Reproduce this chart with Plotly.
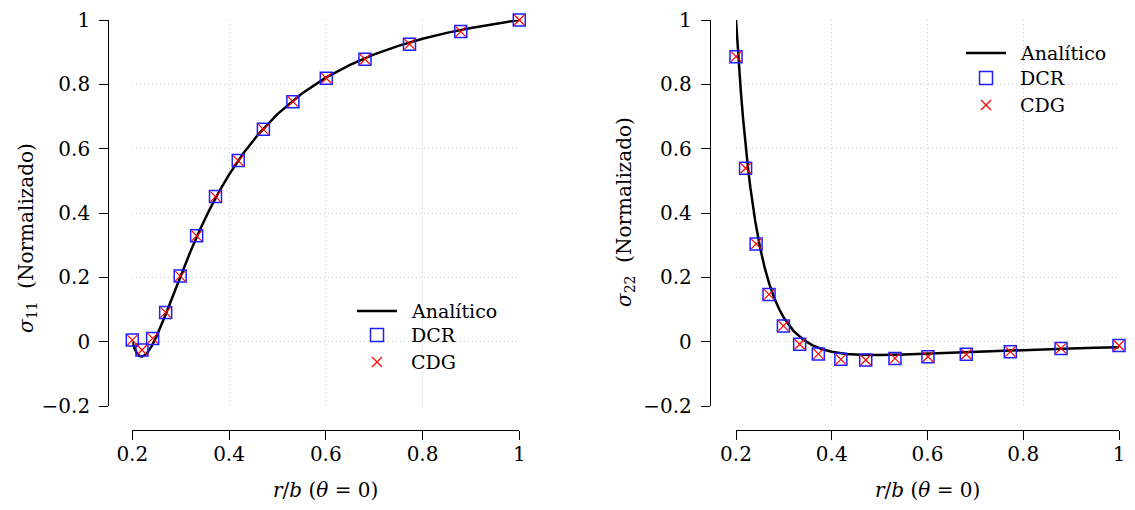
import plotly.graph_objects as go

# ---------------- data ----------------
r_pts = [0.2, 0.22, 0.242, 0.269, 0.299, 0.333, 0.372, 0.419, 0.471, 0.532,
         0.601, 0.681, 0.773, 0.879, 1.0]
s11_dcr = [0.005, -0.026, 0.010, 0.091, 0.204, 0.329, 0.451, 0.563, 0.660,
           0.746, 0.819, 0.878, 0.925, 0.964, 1.0]
s11_cdg = [0.005, -0.026, 0.010, 0.091, 0.204, 0.329, 0.451, 0.563, 0.660,
           0.746, 0.819, 0.878, 0.925, 0.964, 1.0]
s22_dcr = [0.886, 0.539, 0.304, 0.147, 0.049, -0.008, -0.038, -0.055, -0.057,
           -0.052, -0.047, -0.039, -0.031, -0.021, -0.012]
s22_cdg = [0.886, 0.539, 0.304, 0.147, 0.049, -0.008, -0.038, -0.055, -0.057,
           -0.052, -0.047, -0.039, -0.031, -0.021, -0.012]

r_curve = [0.2, 0.205, 0.21, 0.215, 0.22, 0.225, 0.23, 0.24, 0.25, 0.26, 0.27,
           0.28, 0.29, 0.30, 0.32, 0.34, 0.36, 0.38, 0.40, 0.43, 0.46, 0.50,
           0.55, 0.60, 0.65, 0.70, 0.75, 0.80, 0.85, 0.90, 0.95, 1.0]
s11_an = [0.0, -0.0229, -0.0371, -0.0445, -0.0461, -0.0431, -0.0363, -0.0141,
          0.0160, 0.0509, 0.0885, 0.1274, 0.1660, 0.2052, 0.2796, 0.3486,
          0.4114, 0.4683, 0.5194, 0.5866, 0.6438, 0.7074, 0.7709, 0.8209,
          0.8608, 0.8931, 0.9196, 0.9415, 0.9599, 0.9754, 0.9886, 1.0]
s22_an = [1.0, 0.8830, 0.7805, 0.6905, 0.6113, 0.5414, 0.4796, 0.3762, 0.2944,
          0.2293, 0.1773, 0.1354, 0.1015, 0.0741, 0.0336, 0.0066, -0.0114,
          -0.0234, -0.0313, -0.0380, -0.0409, -0.0416, -0.0399, -0.0370,
          -0.0339, -0.0308, -0.0280, -0.0254, -0.0231, -0.0210, -0.0192, -0.0176]

x_ticks = [0.2, 0.4, 0.6, 0.8, 1.0]
x_ticktext = ["0.2", "0.4", "0.6", "0.8", "1"]
y_ticks = [-0.2, 0.0, 0.2, 0.4, 0.6, 0.8, 1.0]
y_ticktext = ["\u22120.2", "0", "0.2", "0.4", "0.6", "0.8", "1"]
legend_labels = ["Analítico", "DCR", "CDG"]

# ---------------- figure ----------------
W, H = 1135, 510
FONT = "DejaVu Serif"

fig = go.Figure()

def add_panel(xa, ya, y_an, y_dcr, y_cdg):
    fig.add_trace(go.Scatter(x=r_curve, y=y_an, mode="lines",
                             name=legend_labels[0],
                             line=dict(color="black", width=2.5),
                             cliponaxis=False, showlegend=False,
                             xaxis=xa, yaxis=ya))
    fig.add_trace(go.Scatter(x=r_pts, y=y_dcr, mode="markers",
                             name=legend_labels[1],
                             marker=dict(symbol="square-open", size=12,
                                         color="rgb(30,30,255)",
                                         line=dict(width=1.5)),
                             cliponaxis=False, showlegend=False,
                             xaxis=xa, yaxis=ya))
    fig.add_trace(go.Scatter(x=r_pts, y=y_cdg, mode="markers",
                             name=legend_labels[2],
                             marker=dict(symbol="x-thin", size=10,
                                         color="red",
                                         line=dict(width=1.2, color="red")),
                             cliponaxis=False, showlegend=False,
                             xaxis=xa, yaxis=ya))

add_panel("x", "y", s11_an, s11_dcr, s11_cdg)
add_panel("x2", "y2", s22_an, s22_dcr, s22_cdg)

def px_x(p):
    return p / W

def px_y(p):
    return 1 - p / H

tickfont = dict(family=FONT, size=20, color="black")
grid = dict(showgrid=True, gridcolor="#c8c8c8", griddash="1px,3px",
            gridwidth=1, zeroline=False, showline=True, linecolor="black",
            linewidth=1.3, ticks="outside", ticklen=9, tickwidth=1.3,
            tickcolor="black", tickfont=tickfont, automargin=False,
            fixedrange=True)

ydom = [px_y(406), px_y(20)]
xaxis_common = dict(range=[0.2, 1.0], tickvals=x_ticks, ticktext=x_ticktext,
                    anchor="free", position=px_y(429.5), ticklabelstandoff=-3,
                    **grid)
yaxis_common = dict(range=[-0.2, 1.0], tickvals=y_ticks, ticktext=y_ticktext,
                    domain=ydom, anchor="free", ticklabelstandoff=5, **grid)

fig.update_layout(
    width=W, height=H,
    margin=dict(l=0, r=0, t=0, b=0),
    paper_bgcolor="white", plot_bgcolor="white",
    font=dict(family=FONT, size=20, color="black"),
    xaxis=dict(domain=[px_x(132.3), px_x(519.3)], **xaxis_common),
    yaxis=dict(position=px_x(108.3), **yaxis_common),
    xaxis2=dict(domain=[px_x(736), px_x(1119)], **xaxis_common),
    yaxis2=dict(position=px_x(710), **yaxis_common),
    showlegend=False,
)

# ---- manual legends (line / square / cross + text) ----
def add_legend(x0, ys, xtext):
    fig.add_shape(type="line", xref="paper", yref="paper",
                  x0=px_x(x0), x1=px_x(x0 + 40), y0=px_y(ys[0]), y1=px_y(ys[0]),
                  line=dict(color="black", width=2.5))
    cx = x0 + 20
    fig.add_shape(type="rect", xref="paper", yref="paper",
                  x0=px_x(cx - 6.5), x1=px_x(cx + 6.5),
                  y0=px_y(ys[1] - 6.5), y1=px_y(ys[1] + 6.5),
                  line=dict(color="rgb(30,30,255)", width=1.5))
    for s in (-1, 1):
        fig.add_shape(type="line", xref="paper", yref="paper",
                      x0=px_x(cx - 5), x1=px_x(cx + 5),
                      y0=px_y(ys[2] - 5 * s), y1=px_y(ys[2] + 5 * s),
                      line=dict(color="red", width=1.2))
    for lab, yy in zip(legend_labels, ys):
        fig.add_annotation(text=lab, x=px_x(xtext), y=px_y(yy), xref="paper",
                           yref="paper", showarrow=False,
                           font=dict(family=FONT, size=19, color="black"),
                           xanchor="left", yanchor="middle")

add_legend(357, [311, 335, 362], 409)
add_legend(966, [53, 78, 105], 1018)

ann_font = dict(family=FONT, size=20, color="black")
xtitle = "<i>r</i>/<i>b</i> (<i>θ</i> = 0)"
fig.add_annotation(text=xtitle, x=px_x(325.8), y=px_y(490), xref="paper",
                   yref="paper", showarrow=False, font=ann_font,
                   xanchor="center", yanchor="middle")
fig.add_annotation(text=xtitle, x=px_x(927.5), y=px_y(490), xref="paper",
                   yref="paper", showarrow=False, font=ann_font,
                   xanchor="center", yanchor="middle")
fig.add_annotation(text="<i>σ</i><sub>11</sub>  (Normalizado)", x=px_x(27),
                   y=px_y(238), xref="paper", yref="paper", showarrow=False,
                   font=ann_font, textangle=-90, xanchor="center",
                   yanchor="middle")
fig.add_annotation(text="<i>σ</i><sub>22</sub>  (Normalizado)", x=px_x(625),
                   y=px_y(212), xref="paper", yref="paper", showarrow=False,
                   font=ann_font, textangle=-90, xanchor="center",
                   yanchor="middle")

fig.write_html("out.html")
